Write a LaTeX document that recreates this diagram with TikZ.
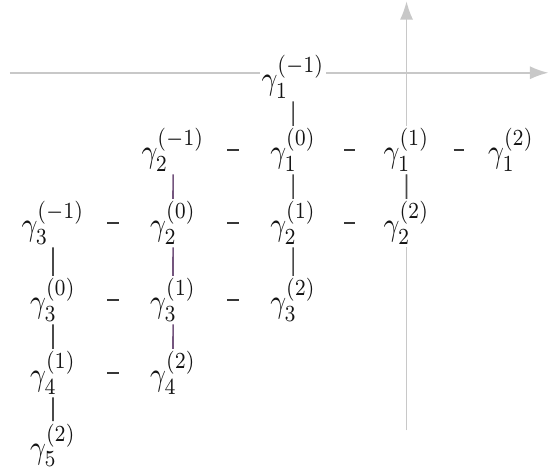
\documentclass[tikz,border=0pt]{standalone}
\usepackage{tikz}
\usetikzlibrary{arrows.meta,calc}
\definecolor{gaxis}{HTML}{C8C8C8}
\definecolor{glink}{HTML}{4A4A4A}
\definecolor{gpurple}{HTML}{74557E}
\definecolor{gtext}{HTML}{141414}

\begin{document}
\begin{tikzpicture}[
  x=1cm,y=1cm,>=Latex,
  gnode/.style={inner sep=.6pt,fill=white,text=gtext,font=\normalsize,
    xscale=1.05,yscale=1.25,transform shape},
  axis/.style={->,draw=gaxis,line width=.6pt,>={Latex[length=7pt,width=5pt]}},
  vlink/.style={draw=glink,line width=.6pt},
  plink/.style={vlink,draw=gpurple},
  hlink/.style={draw=gtext!85,line width=.6pt}
]
\useasboundingbox (0,0) rectangle (7.333,6.267);

% axes behind everything
\coordinate (xl) at (.13,5.297);
\coordinate (xr) at (7.31,5.297);
\coordinate (yb) at (5.42,.53);
\coordinate (yt) at (5.42,6.25);
\draw[axis] (xl) -- (xr);
\draw[axis] (yb) -- (yt);

% row by row, columns at .707 / 2.307 / 3.907 / 5.42 / 6.813
\node[gnode] (g1m) at (3.907,5.24) {$\gamma_1^{(-1)}$};

\node[gnode] (g2m) at (2.307,4.267) {$\gamma_2^{(-1)}$};
\node[gnode] (g10) at (3.907,4.267) {$\gamma_1^{(0)}$};
\node[gnode] (g11) at (5.42,4.267) {$\gamma_1^{(1)}$};
\node[gnode] (g12) at (6.813,4.267) {$\gamma_1^{(2)}$};

\node[gnode] (g3m) at (.707,3.293) {$\gamma_3^{(-1)}$};
\node[gnode] (g20) at (2.307,3.293) {$\gamma_2^{(0)}$};
\node[gnode] (g21) at (3.907,3.293) {$\gamma_2^{(1)}$};
\node[gnode] (g22) at (5.42,3.293) {$\gamma_2^{(2)}$};

\node[gnode] (g30) at (.707,2.267) {$\gamma_3^{(0)}$};
\node[gnode] (g31) at (2.307,2.267) {$\gamma_3^{(1)}$};
\node[gnode] (g32) at (3.907,2.267) {$\gamma_3^{(2)}$};

\node[gnode] (g41) at (.707,1.293) {$\gamma_4^{(1)}$};
\node[gnode] (g42) at (2.307,1.293) {$\gamma_4^{(2)}$};

\node[gnode] (g52) at (.707,.33) {$\gamma_5^{(2)}$};

% vertical links
\draw[vlink] (g1m) -- (g10);
\draw[vlink] (g10) -- (g21);
\draw[vlink] (g21) -- (g32);
\draw[vlink] (g11) -- (g22);
\draw[plink] (g2m) -- (g20);
\draw[plink] (g20) -- (g31);
\draw[plink] (g31) -- (g42);
\draw[vlink] (g3m) -- (g30);
\draw[vlink] (g30) -- (g41);
\draw[vlink] (g41) -- (g52);

% horizontal links, short dash halfway
\foreach \a/\b in {g2m/g10,g10/g11,g11/g12,g3m/g20,g20/g21,g21/g22,g30/g31,g31/g32,g41/g42}
  \draw[hlink] ($(\a)!.45!(\b)$) -- ($(\a)!.55!(\b)$);
\end{tikzpicture}
\end{document}
